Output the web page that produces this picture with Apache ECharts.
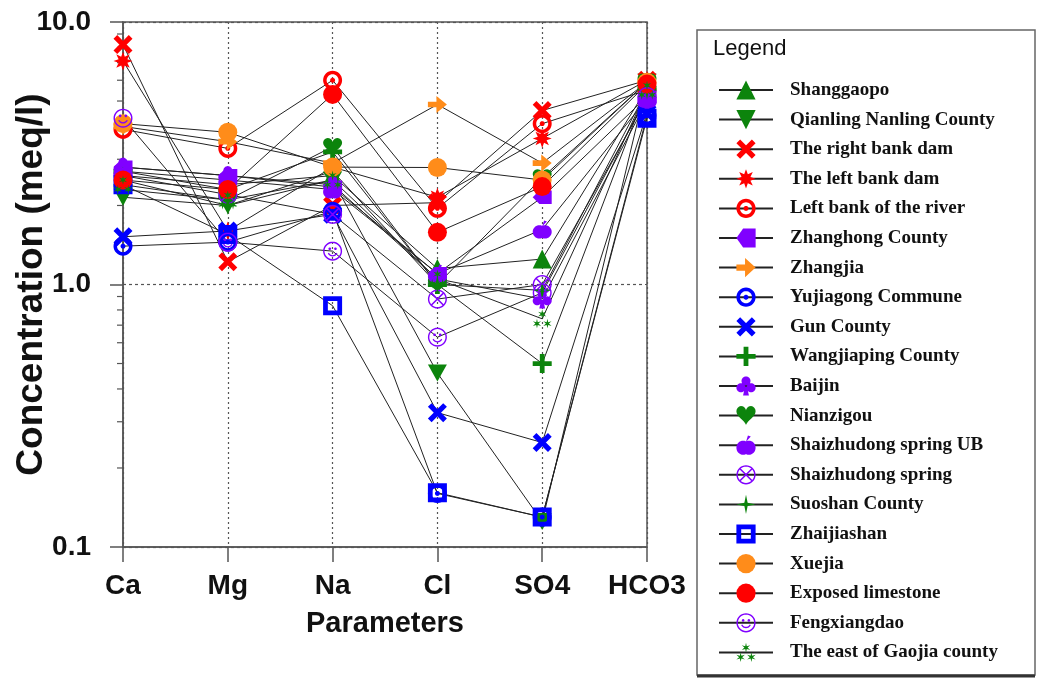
<!DOCTYPE html>
<html><head><meta charset="utf-8">
<script src="https://cdn.jsdelivr.net/npm/echarts@6/dist/echarts.min.js"></script>
<style>html,body{margin:0;padding:0;background:#fff}#chart{width:1041px;height:680px}</style>
</head><body><div id="chart"></div>
<script>
// ---------- DATA ----------
const categories = ['Ca', 'Mg', 'Na', 'Cl', 'SO4', 'HCO3'];
const yTickLabels = ['0.1', '1.0', '10.0'];
const yMinorTicks = [0.2, 0.3, 0.4, 0.5, 0.6, 0.7, 0.8, 0.9, 2, 3, 4, 5, 6, 7, 8, 9];

const shanggaopo      = [2.6, 2.4, 2.6, 1.15, 1.25, 5.6];
const qianlingNanling = [2.15, 2.0, 2.5, 0.46, 0.125, 5.9];
const rightBankDam    = [8.2, 1.22, 2.0, 2.05, 4.6, 6.0];
const leftBankDam     = [7.1, 1.6, 2.8, 2.15, 3.6, 6.0];
const leftBankRiver   = [3.9, 3.3, 6.0, 1.95, 4.1, 5.5];
const zhanghong       = [2.8, 2.6, 2.35, 1.1, 2.15, 5.2];
const zhangjia        = [4.0, 3.5, 2.9, 4.85, 2.9, 5.9];
const yujiagong       = [1.4, 1.45, 1.9, 0.16, 0.13, 4.4];
const gunCounty       = [1.52, 1.6, 1.85, 0.325, 0.25, 4.5];
const wangjiaping     = [2.7, 2.3, 3.2, 1.0, 0.5, 5.6];
const baijin          = [2.8, 2.6, 2.4, 1.05, 0.88, 5.0];
const nianzigou       = [2.3, 2.1, 3.35, 1.0, 2.55, 5.9];
const shaizhudongUB   = [2.7, 2.5, 2.3, 1.1, 1.62, 5.1];
const shaizhudong     = [2.6, 2.2, 1.85, 0.88, 1.0, 5.1];
const suoshan         = [2.5, 2.0, 2.7, 1.0, 0.95, 5.5];
const zhaijiashan     = [2.4, 1.55, 0.83, 0.161, 0.13, 4.3];
const xuejia          = [4.1, 3.8, 2.8, 2.79, 2.5, 5.9];
const exposedLimestone= [2.5, 2.3, 5.3, 1.58, 2.36, 5.8];
const fengxiangdao    = [4.3, 1.45, 1.34, 0.63, 0.93, 5.2];
const eastGaojia      = [2.4, 2.1, 2.5, 1.05, 0.74, 5.5];

// ---------- marker shapes ----------
function poly(pts){ return pts.map((p,i)=>(i?'L':'M')+p[0].toFixed(2)+','+p[1].toFixed(2)).join('')+'Z'; }
function circ(cx,cy,r,rev){ const n=32, pts=[]; for(let i=0;i<n;i++){ const a=(rev?-1:1)*i*2*Math.PI/n; pts.push([cx+r*Math.cos(a), cy+r*Math.sin(a)]);} return poly(pts); }
function bar(x1,y1,x2,y2,w){ const dx=x2-x1, dy=y2-y1, L=Math.hypot(dx,dy), nx=-dy/L*w/2, ny=dx/L*w/2; return poly([[x1+nx,y1+ny],[x2+nx,y2+ny],[x2-nx,y2-ny],[x1-nx,y1-ny]]); }
function star(n,ro,ri,cx,cy,rot){ const pts=[]; for(let i=0;i<2*n;i++){ const r=i%2?ri:ro, a=rot+i*Math.PI/n; pts.push([cx+r*Math.cos(a), cy+r*Math.sin(a)]);} return poly(pts); }
function heart(){ const pts=[]; for(let i=0;i<40;i++){ const t=i*2*Math.PI/40; const s=Math.sin(t); pts.push([16*s*s*s+16, -(13*Math.cos(t)-5*Math.cos(2*t)-2*Math.cos(3*t)-Math.cos(4*t))+17]); } return poly(pts); }
function smile(){ const pts=[]; for(let i=0;i<=10;i++){ const a=(25+i*13)*Math.PI/180; pts.push([10+5.6*Math.cos(a),10+5.6*Math.sin(a)]);} for(let i=10;i>=0;i--){ const a=(25+i*13)*Math.PI/180; pts.push([10+4.2*Math.cos(a),10+4.2*Math.sin(a)]);} return poly(pts); }
const P = (...s) => 'path://' + s.join('');

const SYM = {
  triUp: 'triangle',
  triDown: P('M0,0L20,0L10,18Z'),
  cross: P(bar(2,2,18,18,5.5), bar(18,2,2,18,5.5)),
  burst: P(star(8,10,5,10,10,-Math.PI/2)),
  ringDot: P(circ(10,10,10), circ(10,10,6.3,true), circ(10,10,2.6)),
  pentLeft: P('M0,10L7,3L20,3L20,17L7,17Z'),
  arrow: P('M0,7L9,7L9,1L20,10L9,19L9,13L0,13Z'),
  plus: P(bar(10,0,10,20,5), bar(0,10,20,10,5)),
  club: P(circ(10,5,4.6), circ(4.8,12,4.6), circ(15.2,12,4.6), 'M9,11L11,11L13,20L7,20Z'),
  heart: P(heart()),
  apple: P(circ(7,12,7), circ(13,12,7), poly([[10,6],[12,0],[15,1]])),
  circX: P(circ(10,10,10), circ(10,10,8.5,true), bar(4,4,16,16,1.6), bar(16,4,4,16,1.6)),
  star4: P(star(4,10,2.4,10,10,-Math.PI/2)),
  sqHole: P('M0,0L20,0L20,20L0,20Z', 'M5,5L5,15L15,15L15,5Z'),
  circle: 'circle',
  smiley: P(circ(10,10,10), circ(10,10,8.5,true), circ(7,7.5,1.4), circ(13,7.5,1.4), smile()),
  asterisks: P(star(6,5,1.6,10,5,-Math.PI/2), star(6,5,1.6,4.5,15,-Math.PI/2), star(6,5,1.6,15.5,15,-Math.PI/2))
};

const GREEN = '#0c840c', RED = '#ff0000', PURPLE = '#8000ff', BLUE = '#0000ff', ORANGE = '#ff8c1a';

const seriesDefs = [
  ['Shanggaopo', shanggaopo, GREEN, SYM.triUp],
  ['Qianling Nanling County', qianlingNanling, GREEN, SYM.triDown],
  ['The right bank dam', rightBankDam, RED, SYM.cross],
  ['The left bank dam', leftBankDam, RED, SYM.burst],
  ['Left bank of the river', leftBankRiver, RED, SYM.ringDot],
  ['Zhanghong County', zhanghong, PURPLE, SYM.pentLeft],
  ['Zhangjia', zhangjia, ORANGE, SYM.arrow],
  ['Yujiagong Commune', yujiagong, BLUE, SYM.ringDot],
  ['Gun County', gunCounty, BLUE, SYM.cross],
  ['Wangjiaping County', wangjiaping, GREEN, SYM.plus],
  ['Baijin', baijin, PURPLE, SYM.club],
  ['Nianzigou', nianzigou, GREEN, SYM.heart],
  ['Shaizhudong spring UB', shaizhudongUB, PURPLE, SYM.apple],
  ['Shaizhudong spring', shaizhudong, PURPLE, SYM.circX],
  ['Suoshan County', suoshan, GREEN, SYM.star4],
  ['Zhaijiashan', zhaijiashan, BLUE, SYM.sqHole],
  ['Xuejia', xuejia, ORANGE, SYM.circle],
  ['Exposed limestone', exposedLimestone, RED, SYM.circle],
  ['Fengxiangdao', fengxiangdao, PURPLE, SYM.smiley],
  ['The east of Gaojia county', eastGaojia, GREEN, SYM.asterisks]
];

const series = seriesDefs.map(([name, vals, color, symbol]) => ({
  type: 'line', name,
  data: vals.map((v, i) => [i, v]),
  symbol, symbolSize: 19, symbolKeepAspect: true, showAllSymbol: true,
  itemStyle: { color },
  lineStyle: { color: '#222', width: 1 },
  emphasis: { disabled: true },
  z: 3
}));

series.push({
  type: 'custom', name: 'minorTicks',
  data: yMinorTicks.map(v => [0, v]),
  renderItem: (params, api) => {
    const p = api.coord([api.value(0), api.value(1)]);
    return { type: 'line', shape: { x1: p[0] - 6, y1: p[1], x2: p[0], y2: p[1] }, style: { stroke: '#555', lineWidth: 1.2 } };
  },
  silent: true, z: 2
});

const chart = echarts.init(document.getElementById('chart'));
chart.setOption({
  animation: false,
  backgroundColor: '#fff',
  grid: { left: 123, right: 394, top: 22, bottom: 133, show: true, borderColor: '#555', borderWidth: 1.5, containLabel: false, outerBoundsMode: 'none' },
  xAxis: {
    type: 'value', min: 0, max: 5, interval: 1,
    name: 'Parameters', nameLocation: 'middle', nameGap: 62, nameMoveOverlap: false,
    nameTextStyle: { fontFamily: 'Liberation Sans', fontWeight: 'bold', fontSize: 29, color: '#111' },
    axisLine: { show: true, lineStyle: { color: '#555', width: 1.5 } },
    axisTick: { show: true, length: 15, lineStyle: { color: '#555', width: 1.5 } },
    axisLabel: { margin: 25, fontFamily: 'Liberation Sans', fontWeight: 'bold', fontSize: 28, color: '#111', formatter: v => categories[v] || '' },
    splitLine: { show: true, lineStyle: { color: '#555', type: [2, 3], width: 1.2 } }
  },
  yAxis: {
    type: 'log', logBase: 10, min: 0.1, max: 10,
    name: 'Concentration (meq/l)', nameLocation: 'middle', nameGap: 73, nameRotate: 90, nameMoveOverlap: false,
    nameTextStyle: { fontFamily: 'Liberation Sans', fontWeight: 'bold', fontSize: 37, color: '#111' },
    axisLine: { show: true, lineStyle: { color: '#555', width: 1.5 } },
    axisTick: { show: true, length: 13, lineStyle: { color: '#555', width: 1.5 } },
    axisLabel: { margin: 32, fontFamily: 'Liberation Sans', fontWeight: 'bold', fontSize: 28, color: '#111',
      formatter: v => yTickLabels[Math.round(Math.log10(v)) + 1] },
    splitLine: { show: true, lineStyle: { color: '#555', type: [3, 3], width: 1.2 } }
  },
  legend: {
    orient: 'vertical', left: 713, top: 73,
    itemWidth: 54, itemHeight: 24, itemGap: 5.6,
    selectedMode: false,
    textStyle: { fontFamily: 'Liberation Serif', fontWeight: 'bold', fontSize: 19, color: '#111', lineHeight: 24, padding: [0, 0, 0, 12] },
    data: seriesDefs.map(d => d[0])
  },
  graphic: [
    { type: 'rect', shape: { x: 697, y: 30, width: 338, height: 645 }, style: { fill: 'none', stroke: '#666', lineWidth: 1.5 }, silent: true, z: -1 },
    { type: 'line', shape: { x1: 697, y1: 676, x2: 1035, y2: 676 }, style: { stroke: '#333', lineWidth: 3 }, silent: true },
    { type: 'text', left: 713, top: 38, style: { text: 'Legend', fontFamily: 'Liberation Sans', fontSize: 22, fill: '#111' }, silent: true }
  ],
  series
});
</script></body></html>
